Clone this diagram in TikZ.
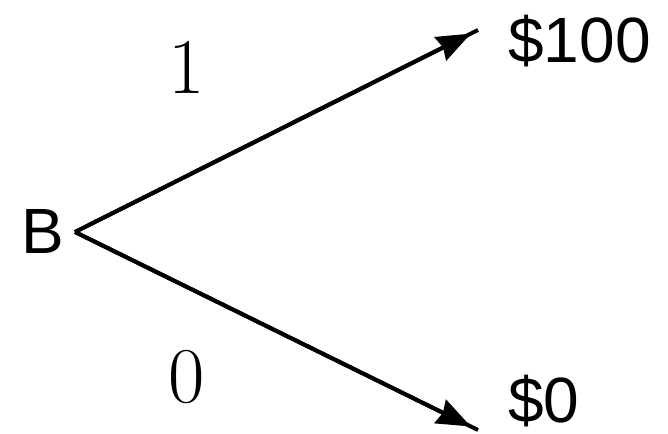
\documentclass[tikz,border=0pt]{standalone}
\usepackage{fontspec}
\newfontfamily\arialish{Liberation Sans}
\usetikzlibrary{arrows.meta}
\begin{document}
\begin{tikzpicture}[x=0.5pt,y=-0.5pt,
  sanslabel/.style={inner sep=0pt,font=\arialish\fontsize{32}{36}\selectfont},
  problabel/.style={inner sep=0pt,font=\fontsize{39.5}{44}\selectfont},
  branch/.style={line width=2pt},
  headed/.style={line width=2pt,-{Stealth[length=17pt,width=13pt,inset=1.5pt]},shorten >=4pt}]
\useasboundingbox (0,0) rectangle (668,433);
\node[sanslabel,anchor=base west] (b) at (21,253) {B};
\coordinate (o) at (75,232);
\coordinate (u) at (478,30);
\coordinate (d) at (478,430);
\draw[branch] (o) -- (u);
\draw[branch] (o) -- (d);
\draw[headed] (o) -- (u);
\draw[headed] (o) -- (d);
\node[sanslabel,anchor=base west] (hi) at (508,62) {\$100};
\node[sanslabel,anchor=base west] (lo) at (508,422) {\$0};
\node[problabel,anchor=base] (p1) at (187,93) {1};
\node[problabel,anchor=base] (p0) at (187,402) {0};
\end{tikzpicture}
\end{document}
